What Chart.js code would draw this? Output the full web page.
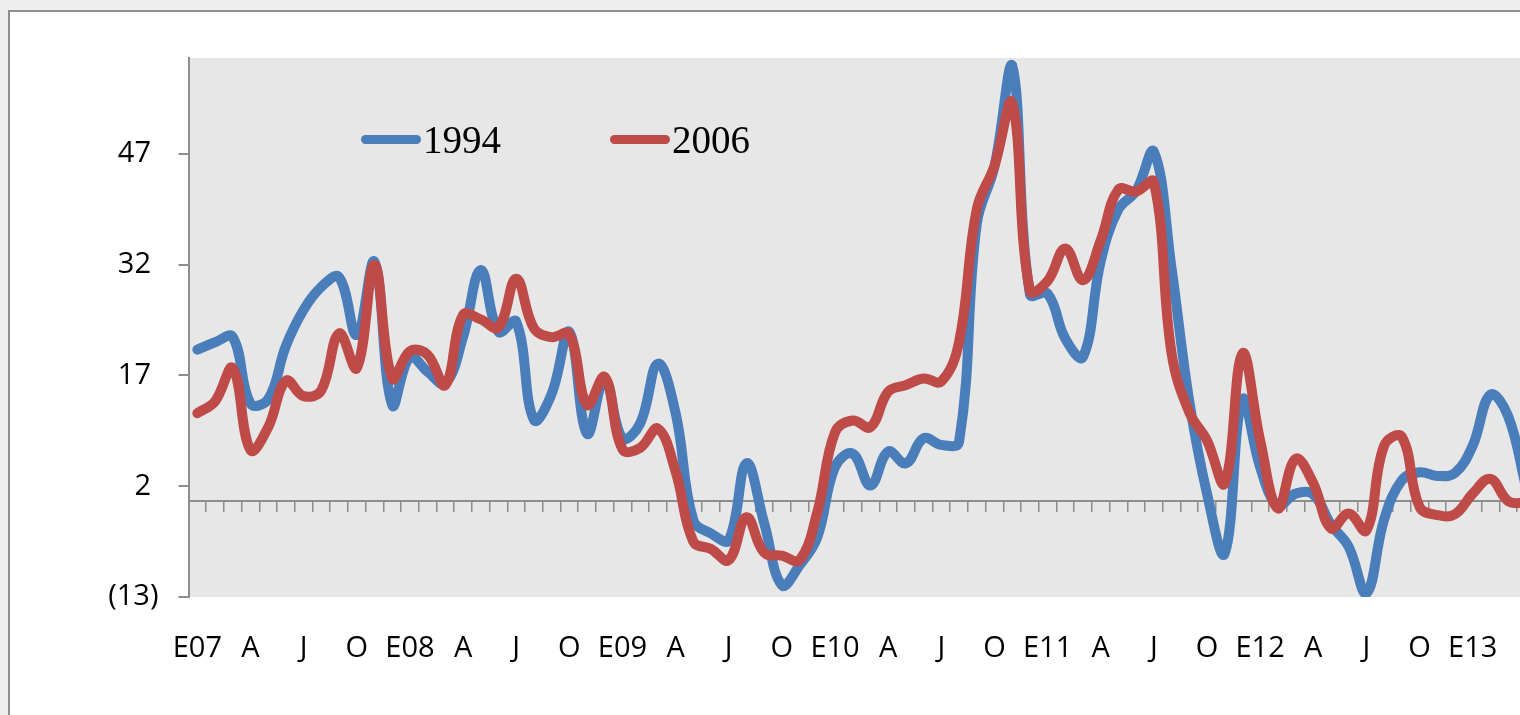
<!DOCTYPE html>
<html lang="es">
<head>
<meta charset="utf-8">
<title>1994 vs 2006</title>
<script src="https://cdn.jsdelivr.net/npm/chart.js@4.4.1/dist/chart.umd.min.js"></script>
<style>
    html, body { margin: 0; padding: 0; }
    body { width: 1520px; height: 715px; overflow: hidden; background: #eeeeee; position: relative; }
    #frame { position: absolute; left: 8px; top: 10px; width: 1600px; height: 800px; border: 2px solid #8d8d8d; background: #ffffff; }
    #chartBox { position: absolute; left: 0; top: 0; width: 1560px; height: 715px; }
    #legend { position: absolute; left: 0; top: 0; font-family: 'Liberation Serif', 'DejaVu Serif', serif; font-size: 39px; line-height: 39px; color: #000; }
    #legend .item { position: absolute; top: 120px; display: flex; align-items: center; white-space: nowrap; }
    #legend .swatch { width: 60px; height: 9px; border-radius: 5px; margin-right: 2px; }
</style>
</head>
<body>
<div id="frame"></div>
<div id="chartBox"><canvas id="lineChart" width="1560" height="715"></canvas></div>
<div id="legend"></div>

<script>
// Meses (E = enero ... D = diciembre), ene-2007 a abr-2013
const categories = [
    'E07', 'F', 'M', 'A', 'M', 'J', 'J', 'A', 'S', 'O', 'N', 'D',
    'E08', 'F', 'M', 'A', 'M', 'J', 'J', 'A', 'S', 'O', 'N', 'D',
    'E09', 'F', 'M', 'A', 'M', 'J', 'J', 'A', 'S', 'O', 'N', 'D',
    'E10', 'F', 'M', 'A', 'M', 'J', 'J', 'A', 'S', 'O', 'N', 'D',
    'E11', 'F', 'M', 'A', 'M', 'J', 'J', 'A', 'S', 'O', 'N', 'D',
    'E12', 'F', 'M', 'A', 'M', 'J', 'J', 'A', 'S', 'O', 'N', 'D',
    'E13', 'F', 'M', 'A'
];

const serie1994 = [
    20.5, 21.5, 22.2, 13.2, 13.8, 21.0, 25.9, 29.0, 30.3, 22.5, 32.4, 13.0,
    19.5, 17.5, 15.9, 22.2, 31.3, 22.9, 24.3, 11.0, 14.5, 22.9, 9.1, 16.5,
    8.5, 10.5, 18.6, 11.9, -2.6, -4.4, -5.3, 5.1, -3.0, -11.4, -8.7, -4.9,
    4.6, 6.4, 2.1, 6.7, 5.1, 8.5, 7.6, 8.0, 37.5, 45.3, 59.0, 28.0,
    28.1, 22.0, 19.5, 32.5, 39.5, 42.0, 47.3, 31.5, 13.5, 1.0, -7.1, 13.7,
    4.6, -0.6, 1.0, 0.9, -3.2, -6.2, -12.5, -2.5, 2.8, 3.9, 3.4, 3.8,
    7.5, 14.4, 11.5, 2.0
];

const serie2006 = [
    11.9, 13.5, 18.0, 6.9, 10.0, 16.3, 14.2, 15.0, 22.7, 18.0, 32.0, 16.6,
    20.3, 19.8, 15.7, 25.2, 24.6, 23.5, 30.1, 23.4, 22.2, 22.6, 13.0, 16.8,
    7.0, 7.2, 9.8, 4.0, -5.5, -6.5, -8.0, -2.2, -7.0, -7.4, -8.0, -1.5,
    9.3, 10.9, 10.0, 14.8, 15.7, 16.6, 16.2, 21.5, 39.5, 45.4, 53.9, 28.5,
    29.8, 34.2, 29.9, 35.3, 42.2, 41.9, 43.2, 20.0, 12.0, 8.2, 2.4, 20.0,
    8.2, -1.0, 5.7, 2.4, -3.7, -1.7, -4.0, 7.5, 8.7, -0.8, -1.9, -1.8,
    1.0, 3.0, 0.0, -0.3
];

const yTicks = [-13, 2, 17, 32, 47];
const yMin = -13;
const yMax = 60;

const axisGray = '#8d8d8d';
const labelFont = { family: "'Open Sans', 'Liberation Sans', sans-serif", size: 29 };

// fondo gris del area de trazado
const plotBg = {
    id: 'plotBg',
    beforeDraw(chart, args, opts) {
        const { ctx, chartArea } = chart;
        ctx.save();
        ctx.fillStyle = opts.color;
        ctx.fillRect(chartArea.left, chartArea.top, chartArea.right - chartArea.left, chartArea.bottom - chartArea.top);
        ctx.restore();
    }
};

function yLabel(v) {
    // formato contable: negativos entre parentesis
    return v < 0 ? '(' + Math.abs(v) + ')' : v + ' ';
}

const chart = new Chart(document.getElementById('lineChart'), {
    type: 'line',
    data: {
        labels: categories,
        datasets: [
            {
                label: '1994',
                data: serie1994,
                borderColor: '#4A7EBB',
                backgroundColor: '#4A7EBB',
                borderWidth: 10,
                pointRadius: 0,
                tension: 0.4,
                borderCapStyle: 'round',
                borderJoinStyle: 'round',
                order: 2
            },
            {
                label: '2006',
                data: serie2006,
                borderColor: '#BE4B48',
                backgroundColor: '#BE4B48',
                borderWidth: 10,
                pointRadius: 0,
                tension: 0.4,
                borderCapStyle: 'round',
                borderJoinStyle: 'round',
                order: 1
            }
        ]
    },
    options: {
        responsive: false,
        animation: false,
        devicePixelRatio: 1,
        layout: { padding: { top: 58, right: 24.6, bottom: 0, left: 0 } },
        plugins: {
            legend: { display: false },
            tooltip: { enabled: false },
            plotBg: { color: '#e7e7e7' }
        },
        scales: {
            x: {
                type: 'category',
                position: 'bottom',
                offset: true,
                grid: { display: false, drawTicks: false },
                border: { display: false },
                ticks: {
                    autoSkip: false,
                    maxRotation: 0,
                    padding: 34,
                    color: '#000',
                    font: labelFont,
                    // una etiqueta por trimestre completo
                    callback(value, index) {
                        const full = index + 3 <= categories.length;
                        return index % 3 === 0 && full ? this.getLabelForValue(value) : '';
                    }
                },
                afterFit(scale) { scale.height = 118; }
            },
            // eje horizontal en cero con marcas mensuales
            x2: {
                type: 'category',
                position: { y: 0 },
                offset: true,
                grid: { offset: true, drawOnChartArea: false, tickLength: 10, color: axisGray, lineWidth: 1.5 },
                border: { color: axisGray, width: 2 },
                ticks: { display: false }
            },
            y: {
                min: yMin,
                max: yMax,
                position: 'left',
                afterBuildTicks(scale) {
                    scale.ticks = yTicks.map(v => ({ value: v }));
                },
                grid: { drawOnChartArea: false, tickLength: 10, color: axisGray, lineWidth: 2 },
                border: { color: axisGray, width: 2 },
                ticks: {
                    padding: 20,
                    color: '#000',
                    font: labelFont,
                    callback: yLabel
                },
                afterFit(scale) { scale.width = 188.5; }
            }
        }
    },
    plugins: [plotBg]
});

// leyenda dentro del area de trazado
const legendBox = document.getElementById('legend');
const legendLeft = [361, 610];
chart.data.datasets.forEach((ds, i) => {
    const item = document.createElement('div');
    item.className = 'item';
    item.style.left = legendLeft[i] + 'px';
    item.innerHTML = `<span class="swatch" style="background:${ds.borderColor}"></span><span>${ds.label}</span>`;
    legendBox.appendChild(item);
});
</script>
</body>
</html>
